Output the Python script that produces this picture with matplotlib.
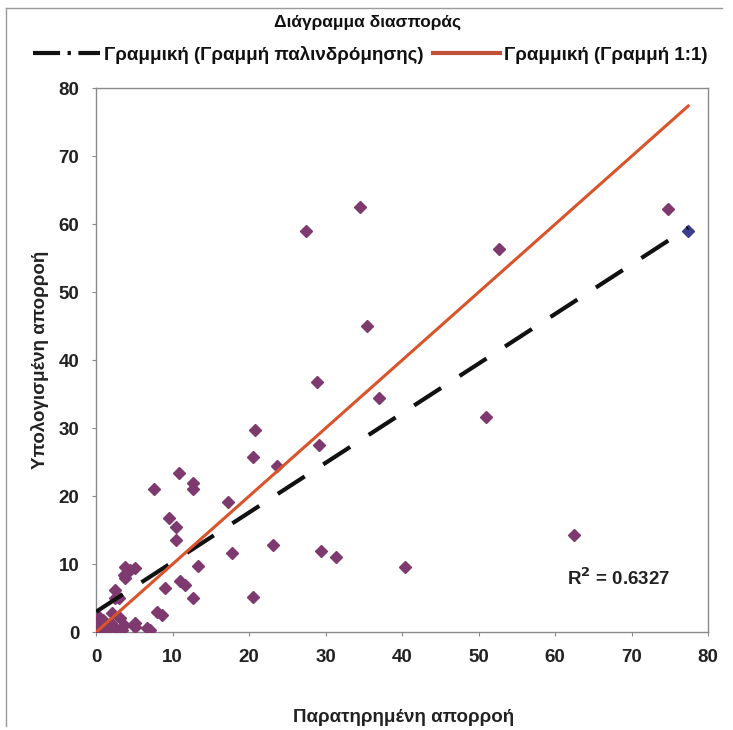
import numpy as np
import matplotlib
matplotlib.use("Agg")
import matplotlib.pyplot as plt
from matplotlib.lines import Line2D

plt.rcParams['font.family'] = ['Liberation Sans', 'DejaVu Sans']

observed = [77.4, 74.8, 62.5, 52.7, 51.0, 40.4, 37.0, 35.4, 34.5, 31.4,
            29.4, 29.2, 28.9, 27.5, 23.6, 23.1, 20.8, 20.5, 20.5, 17.8,
            17.3, 13.3, 12.7, 12.7, 12.7, 11.6, 11.0, 10.8, 10.5, 10.5,
            9.5, 9.0, 8.6, 8.0, 7.6, 7.0, 6.6, 5.1, 5.1, 5.1,
            4.4, 3.8, 3.7, 3.8, 2.5, 3.0, 2.5, 2.1, 3.1, 3.7,
            3.4, 2.0, 1.5, 0.9, 0.4, 0.4, 0.1, 0.5, 0.0, 1.2, 2.6]
computed = [59.0, 62.2, 14.3, 56.3, 31.6, 9.6, 34.4, 45.0, 62.6, 11.1,
            11.9, 27.5, 36.8, 59.0, 24.4, 12.8, 29.8, 25.8, 5.2, 11.6,
            19.2, 9.7, 22.0, 21.1, 5.1, 6.9, 7.6, 23.4, 15.5, 13.5,
            16.8, 6.5, 2.6, 2.9, 21.0, 0.3, 0.6, 1.3, 0.7, 9.4,
            9.1, 9.6, 8.4, 7.9, 6.2, 5.1, 5.0, 2.8, 2.1, 1.0,
            0.3, 1.3, 0.3, 1.8, 2.2, 1.3, 0.7, 0.3, 0.0, 0.8, 0.5]

# regression line
reg_slope = 0.73
reg_intercept = 3.0
r_squared = 0.6327

obs = np.array(observed)
comp = np.array(computed)

fig = plt.figure(figsize=(7.33, 7.30), dpi=100)
ax = fig.add_axes([0.131, 0.134, 0.835, 0.745])

# scatter points
ax.plot(obs[1:], comp[1:], linestyle='none', marker='D', markersize=6,
        color='#7e3a6e', zorder=3)
ax.plot(obs[:1], comp[:1], linestyle='none', marker='D', markersize=6,
        color='#3e3e8e', zorder=3)

xs = np.array([0, obs.max()])
ax.plot(xs, reg_slope * xs + reg_intercept, color='#111111',
        linewidth=3.0, dashes=(7.7, 5.3), zorder=4)
ax.plot(xs, xs, color='#d9532b', linewidth=2.2, zorder=4)

ax.set_xlim(0, 80)
ax.set_ylim(0, 80)
ax.set_xticks(range(0, 81, 10))
ax.set_yticks(range(0, 81, 10))
for s in ax.spines.values():
    s.set_color('#8a8a8a')
    s.set_linewidth(1.0)
ax.tick_params(direction='out', length=3, width=0.8, color='#8a8a8a',
               labelsize=13.5, labelcolor='#222222')
ax.tick_params(axis='x', pad=9)
ax.tick_params(axis='y', pad=9)
for lbl in ax.get_xticklabels() + ax.get_yticklabels():
    lbl.set_fontweight('bold')

ax.set_xlabel('Παρατηρημένη απορροή', fontsize=13.5, fontweight='bold',
              color='#222222', va='center')
ax.set_ylabel('Υπολογισμένη απορροή', fontsize=13.5, fontweight='bold',
              color='#222222', va='center')
ax.xaxis.set_label_coords(0.502, -0.156)
ax.yaxis.set_label_coords(-0.092, 0.5)

ax.text(61.6, 8.0, 'R$^{\\mathbf{2}}$ = %.4f' % r_squared, fontsize=13.5,
        fontweight='bold', color='#222222', va='center')

fig.text(0.502, 0.97, 'Διάγραμμα διασποράς', ha='center', va='center',
         fontsize=12.5, fontweight='bold', color='#111111')

handles = [Line2D([], [], color='#111111', linewidth=3.0, dashes=(6.5, 1.8, 0.8, 1.8)),
           Line2D([], [], color='#c0503a', linewidth=3.0)]
fig.legend(handles, ['Γραμμική (Γραμμή παλινδρόμησης)', 'Γραμμική (Γραμμή 1:1)'],
           loc='center', bbox_to_anchor=(0.505, 0.925), ncol=2, frameon=False,
           prop={'size': 13.5, 'weight': 'bold'}, handlelength=3.6,
           columnspacing=0.5, handletextpad=0.2, labelcolor='#111111')

# outer frame of the chart
fig.add_artist(Line2D([0.008, 0.008], [0.005, 0.989], color='#9a9a9a',
                      linewidth=1.0, transform=fig.transFigure))
fig.add_artist(Line2D([0.008, 0.985], [0.989, 0.989], color='#9a9a9a',
                      linewidth=1.0, transform=fig.transFigure))

fig.savefig('out.png', dpi=100)
